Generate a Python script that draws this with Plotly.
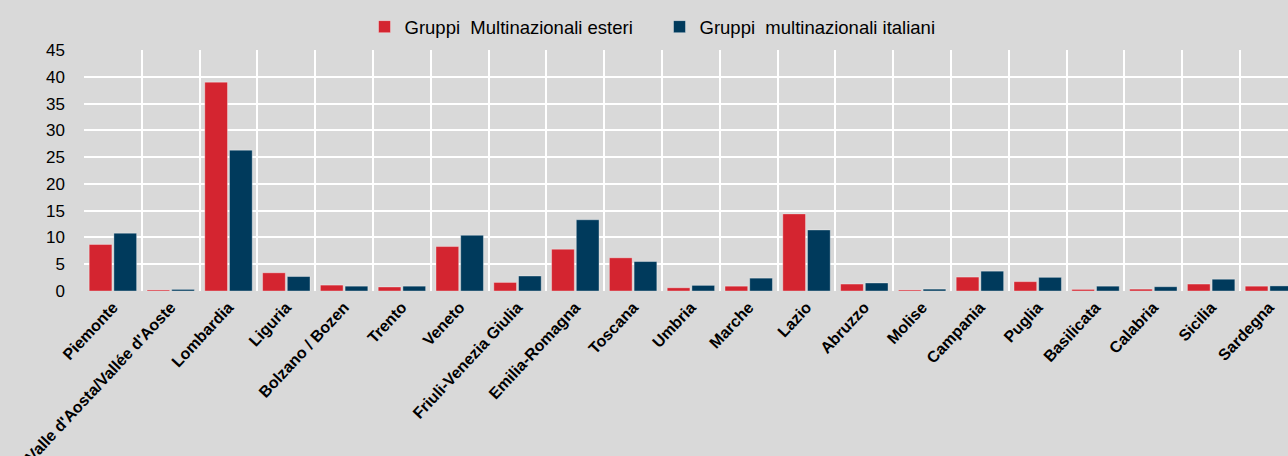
import plotly.graph_objects as go

regions = ["Piemonte", "Valle d'Aosta/Vallée d'Aoste", "Lombardia", "Liguria", "Bolzano / Bozen",
           "Trento", "Veneto", "Friuli-Venezia Giulia", "Emilia-Romagna", "Toscana", "Umbria",
           "Marche", "Lazio", "Abruzzo", "Molise", "Campania", "Puglia", "Basilicata", "Calabria",
           "Sicilia", "Sardegna"]
esteri = [8.7, 0.2, 39.0, 3.4, 1.1, 0.75, 8.3, 1.6, 7.8, 6.2, 0.6, 0.9, 14.4, 1.3, 0.2, 2.6, 1.75,
          0.3, 0.35, 1.3, 0.9]
italiani = [10.8, 0.3, 26.3, 2.7, 0.9, 0.9, 10.4, 2.8, 13.3, 5.5, 1.05, 2.4, 11.4, 1.5, 0.35, 3.7,
            2.55, 0.9, 0.8, 2.2, 0.95]
yticks = [0, 5, 10, 15, 20, 25, 30, 35, 40, 45]

bg = "#d9d9d9"
fig = go.Figure()
fig.add_trace(go.Bar(x=regions, y=esteri, name="Gruppi  Multinazionali esteri",
                     marker=dict(color="#d42530", line=dict(color="rgba(255,255,255,0.35)", width=1))))
fig.add_trace(go.Bar(x=regions, y=italiani, name="Gruppi  multinazionali italiani",
                     marker=dict(color="#003a5c", line=dict(color="rgba(255,255,255,0.35)", width=1))))

fig.update_layout(
    width=1288, height=456,
    paper_bgcolor=bg, plot_bgcolor=bg,
    margin=dict(l=84, r=0, t=50, b=165),
    barmode="group", bargap=0.145, bargroupgap=0.08,
    font=dict(family="Liberation Sans, Arial, sans-serif", color="#000"),
    legend=dict(orientation="h", x=0.478, xanchor="center", y=1.095, yanchor="middle",
                font=dict(size=18.5, family="Liberation Sans, Arial"),
                entrywidth=250,
                bgcolor="rgba(0,0,0,0)"),
    xaxis=dict(type="category", tickson="boundaries", showgrid=True, gridcolor="white", gridwidth=2,
               ticks="", tickangle=-47, range=[-0.5, 20.33], ticklabelstandoff=3, automargin=False,
               tickfont=dict(size=16, family="Liberation Sans, Arial", weight="bold"),
               showline=False, zeroline=False),
    yaxis=dict(range=[0, 45], tickvals=yticks, showgrid=True, gridcolor="white", gridwidth=2,
               zeroline=False, ticks="", ticklabelstandoff=18, automargin=False,
               tickfont=dict(size=17, family="Liberation Sans, Arial")),
)
fig.write_html("out.html", config={"displayModeBar": False},
               post_script="document.body.style.margin='0';document.body.style.background='#d9d9d9';")
